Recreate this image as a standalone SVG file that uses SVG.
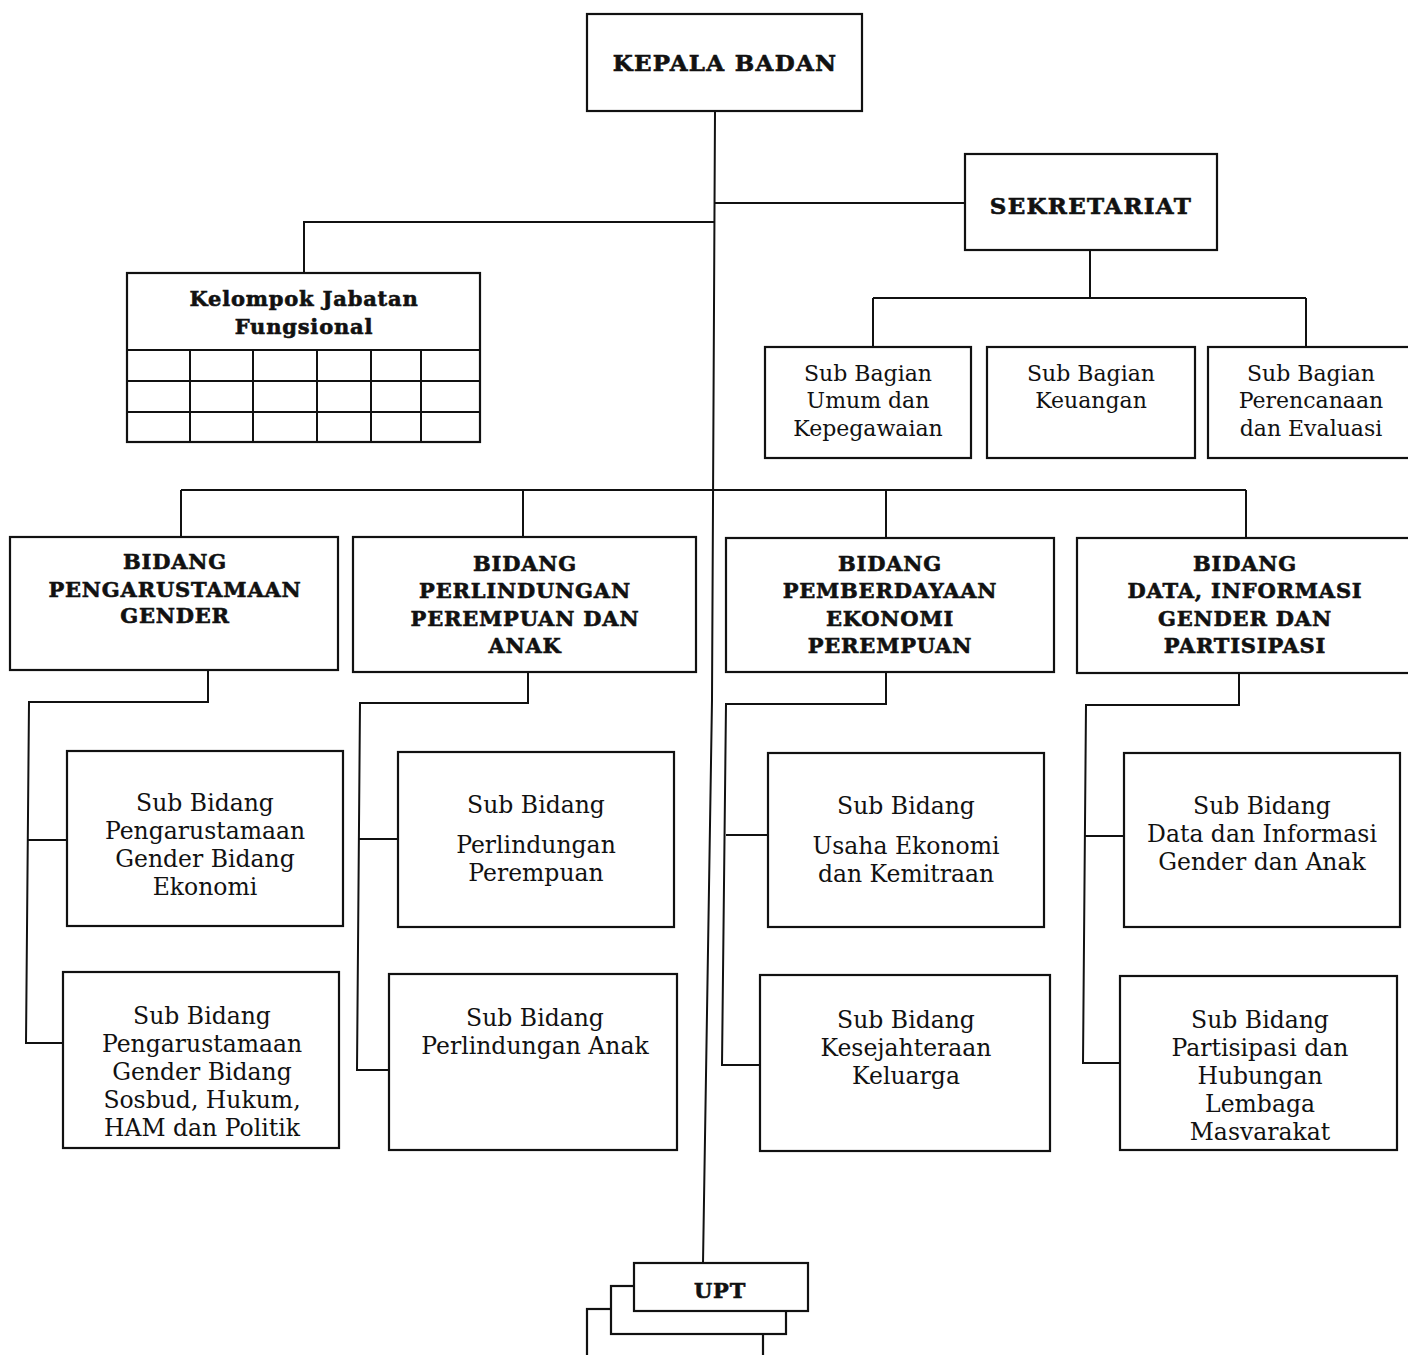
<svg xmlns="http://www.w3.org/2000/svg" width="1408" height="1355" viewBox="0 0 1408 1355">
<style>
rect.box{fill:#fff;stroke:#111;stroke-width:2.2}
.c line,.c polyline{stroke:#111;stroke-width:2;fill:none}
text{font-family:"DejaVu Serif","Liberation Serif",serif;fill:#111;text-anchor:middle}
.h{font-weight:bold;font-size:21px;letter-spacing:0.8px;stroke:#111;stroke-width:0.6}
.hb{font-weight:bold;font-size:23px;letter-spacing:1.3px;stroke:#111;stroke-width:0.6}
.s{font-size:22px}
.t{font-size:23.5px}
.g line{stroke:#111;stroke-width:2}
</style>
<rect width="1408" height="1355" fill="#fff"/>
<g class="c" id="connectors">
<polyline points="715,111 712,700 703,1263"/>
<line x1="714" y1="203" x2="965" y2="203"/>
<polyline points="714,222 304,222 304,273"/>
<line x1="1090" y1="250" x2="1090" y2="298"/>
<line x1="873" y1="298" x2="1306" y2="298"/>
<line x1="873" y1="298" x2="873" y2="347"/>
<line x1="1306" y1="298" x2="1306" y2="347"/>
<line x1="181" y1="490" x2="1246" y2="490"/>
<line x1="181" y1="490" x2="181" y2="537"/>
<line x1="523" y1="490" x2="523" y2="537"/>
<line x1="886" y1="490" x2="886" y2="538"/>
<line x1="1246" y1="490" x2="1246" y2="538"/>
<polyline points="208,670 208,702 29,702 26,1043 63,1043"/>
<line x1="28" y1="840" x2="67" y2="840"/>
<polyline points="528,672 528,703 360,703 357,1070 390,1070"/>
<line x1="359" y1="839" x2="398" y2="839"/>
<polyline points="886,672 886,704 726,704 722,1065 761,1065"/>
<line x1="726" y1="835" x2="768" y2="835"/>
<polyline points="1239,673 1239,705 1086,705 1083,1063 1120,1063"/>
<line x1="1085" y1="836" x2="1124" y2="836"/>
</g>
<g id="kepala-badan"><rect class="box" x="587" y="14" width="275" height="97"/><text class="hb" x="725" y="71">KEPALA BADAN</text></g>
<g id="sekretariat"><rect class="box" x="965" y="154" width="252" height="96"/><text class="hb" x="1091" y="214">SEKRETARIAT</text></g>
<g id="kelompok-jabatan-fungsional"><rect class="box" x="127" y="273" width="353" height="169"/>
<text class="h" font-size="22" x="304" y="306">Kelompok Jabatan</text><text class="h" x="304" y="334">Fungsional</text>
<g class="g"><line x1="127" y1="350" x2="480" y2="350"/><line x1="127" y1="381" x2="480" y2="381"/><line x1="127" y1="412" x2="480" y2="412"/>
<line x1="190" y1="350" x2="190" y2="442"/><line x1="253" y1="350" x2="253" y2="442"/><line x1="317" y1="350" x2="317" y2="442"/><line x1="371" y1="350" x2="371" y2="442"/><line x1="421" y1="350" x2="421" y2="442"/></g></g>
<g id="sub-bagian-umum"><rect class="box" x="765" y="347" width="206" height="111"/><text class="s" x="868" y="381">Sub Bagian</text><text class="s" x="868" y="408">Umum dan</text><text class="s" x="868" y="436">Kepegawaian</text></g>
<g id="sub-bagian-keuangan"><rect class="box" x="987" y="347" width="208" height="111"/><text class="s" x="1091" y="381">Sub Bagian</text><text class="s" x="1091" y="408">Keuangan</text></g>
<g id="sub-bagian-perencanaan"><rect class="box" x="1208" y="347" width="205" height="111"/><text class="s" x="1311" y="381">Sub Bagian</text><text class="s" x="1311" y="408">Perencanaan</text><text class="s" x="1311" y="436">dan Evaluasi</text></g>
<g id="bidang-pug"><rect class="box" x="10" y="537" width="328" height="133"/><text class="h" x="175" y="569">BIDANG</text><text class="h" x="175" y="597">PENGARUSTAMAAN</text><text class="h" x="175" y="623">GENDER</text></g>
<g id="bidang-ppa"><rect class="box" x="353" y="537" width="343" height="135"/><text class="h" x="525" y="571">BIDANG</text><text class="h" x="525" y="598">PERLINDUNGAN</text><text class="h" x="525" y="626">PEREMPUAN DAN</text><text class="h" x="525" y="653">ANAK</text></g>
<g id="bidang-pep"><rect class="box" x="726" y="538" width="328" height="134"/><text class="h" x="890" y="571">BIDANG</text><text class="h" x="890" y="598">PEMBERDAYAAN</text><text class="h" x="890" y="626">EKONOMI</text><text class="h" x="890" y="653">PEREMPUAN</text></g>
<g id="bidang-data"><rect class="box" x="1077" y="538" width="340" height="135"/><text class="h" x="1245" y="571">BIDANG</text><text class="h" x="1245" y="598">DATA, INFORMASI</text><text class="h" x="1245" y="626">GENDER DAN</text><text class="h" x="1245" y="653">PARTISIPASI</text></g>
<g id="sub-bidang-pug-ekonomi"><rect class="box" x="67" y="751" width="276" height="175"/><text class="t" x="205" y="811">Sub Bidang</text><text class="t" x="205" y="839">Pengarustamaan</text><text class="t" x="205" y="867">Gender Bidang</text><text class="t" x="205" y="895">Ekonomi</text></g>
<g id="sub-bidang-pug-sosbud"><rect class="box" x="63" y="972" width="276" height="176"/><text class="t" x="202" y="1024">Sub Bidang</text><text class="t" x="202" y="1052">Pengarustamaan</text><text class="t" x="202" y="1080">Gender Bidang</text><text class="t" x="202" y="1108">Sosbud, Hukum,</text><text class="t" x="202" y="1136">HAM dan Politik</text></g>
<g id="sub-bidang-perlindungan-perempuan"><rect class="box" x="398" y="752" width="276" height="175"/><text class="t" x="536" y="813">Sub Bidang</text><text class="t" x="536" y="853">Perlindungan</text><text class="t" x="536" y="881">Perempuan</text></g>
<g id="sub-bidang-perlindungan-anak"><rect class="box" x="389" y="974" width="288" height="176"/><text class="t" x="535" y="1026">Sub Bidang</text><text class="t" x="535" y="1054">Perlindungan Anak</text></g>
<g id="sub-bidang-usaha-ekonomi"><rect class="box" x="768" y="753" width="276" height="174"/><text class="t" x="906" y="814">Sub Bidang</text><text class="t" x="906" y="854">Usaha Ekonomi</text><text class="t" x="906" y="882">dan Kemitraan</text></g>
<g id="sub-bidang-kesejahteraan"><rect class="box" x="760" y="975" width="290" height="176"/><text class="t" x="906" y="1028">Sub Bidang</text><text class="t" x="906" y="1056">Kesejahteraan</text><text class="t" x="906" y="1084">Keluarga</text></g>
<g id="sub-bidang-data"><rect class="box" x="1124" y="753" width="276" height="174"/><text class="t" x="1262" y="814">Sub Bidang</text><text class="t" x="1262" y="842">Data dan Informasi</text><text class="t" x="1262" y="870">Gender dan Anak</text></g>
<g id="sub-bidang-partisipasi"><rect class="box" x="1120" y="976" width="277" height="174"/><text class="t" x="1260" y="1028">Sub Bidang</text><text class="t" x="1260" y="1056">Partisipasi dan</text><text class="t" x="1260" y="1084">Hubungan</text><text class="t" x="1260" y="1112">Lembaga</text><text class="t" x="1260" y="1140">Masvarakat</text></g>
<g id="upt">
<rect class="box" x="587" y="1309" width="176" height="60"/>
<rect class="box" x="611" y="1286" width="175" height="48"/>
<rect class="box" x="634" y="1263" width="174" height="48"/>
<text class="h" font-size="22" x="720" y="1298">UPT</text>
</g>
</svg>
